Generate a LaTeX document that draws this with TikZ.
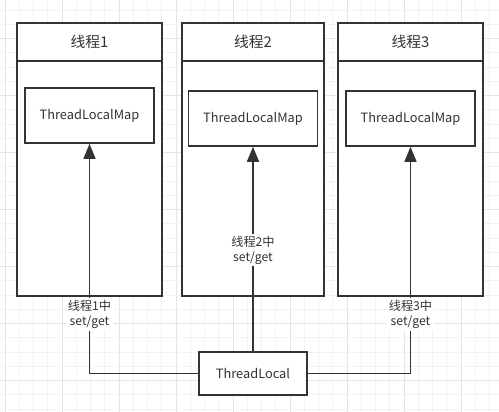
\documentclass[tikz,border=0pt]{standalone}
\usepackage{fontspec}
\setmainfont{Noto Sans CJK SC}
\usetikzlibrary{positioning,arrows.meta}

\definecolor{ink}{HTML}{333333}
\definecolor{gridminor}{HTML}{F2F2F2}
\definecolor{gridmajor}{HTML}{E4E4E4}

\begin{document}
\begin{tikzpicture}[x=0.5pt, y=-0.5pt,
  every node/.style={text=ink},
  box/.style={draw=ink, line width=0.8pt, fill=white, inner sep=0pt},
  head/.style={box, minimum height=19pt, font=\fontsize{7.4}{8}\selectfont},
  body/.style={box, minimum height=117.5pt},
  mapbox/.style={box, minimum width=64.5pt, minimum height=27.5pt, font=\fontsize{6.4}{7.5}\selectfont},
  link/.style={draw=ink, line width=0.8pt, -{Triangle[length=7.5pt,width=6pt]}},
  lbl/.style={fill=white, inner sep=1pt, align=center, font=\fontsize{6.1}{7.5}\selectfont}]
  % canvas and grid
  \useasboundingbox (0,0) rectangle (499,412);
  \fill[white] (0,0) rectangle (499,412);
  \foreach \i in {0,...,34} {
    \pgfmathtruncatemacro{\m}{mod(\i,4)}
    \ifnum\m=0 \def\gc{gridmajor}\else\def\gc{gridminor}\fi
    \draw[\gc, line width=0.5pt] ({5+\i*14.25},0) -- ({5+\i*14.25},412);
  }
  \foreach \i in {0,...,28} {
    \pgfmathtruncatemacro{\m}{mod(\i,4)}
    \ifnum\m=2 \def\gc{gridmajor}\else\def\gc{gridminor}\fi
    \draw[\gc, line width=0.5pt] (0,{10+\i*14.25}) -- (499,{10+\i*14.25});
  }

  % threads
  \node[body, minimum width=72.5pt] (b1) at (89.5,178.5) {};
  \node[head, minimum width=72.5pt] (h1) at (89.5,42) {线程1};
  \node[body, minimum width=71pt] (b2) at (253,178.5) {};
  \node[head, minimum width=71pt] (h2) at (253,42) {线程2};
  \node[body, minimum width=72.5pt] (b3) at (410.5,178.5) {};
  \node[head, minimum width=72.5pt] (h3) at (410.5,42) {线程3};

  % maps
  \node[mapbox] (m1) at (89.5,115.5) {ThreadLocalMap};
  \node[mapbox] (m2) at (253,118.5) {ThreadLocalMap};
  \node[mapbox] (m3) at (410.5,118.5) {ThreadLocalMap};

  % ThreadLocal
  \node[mapbox, minimum width=54pt, minimum height=21.5pt] (tl) at (253,373.5) {ThreadLocal};

  \draw[link] (tl.west) -| (m1.south);
  \draw[link] (tl.north) -- (m2.south);
  \draw[link] (tl.east) -| (m3.south);

  \node[lbl] (lab1) at (89.5,314.5) {线程1中\\set/get};
  \node[lbl] (lab2) at (253,250) {线程2中\\set/get};
  \node[lbl] (lab3) at (410.5,314.5) {线程3中\\set/get};
\end{tikzpicture}
\end{document}
